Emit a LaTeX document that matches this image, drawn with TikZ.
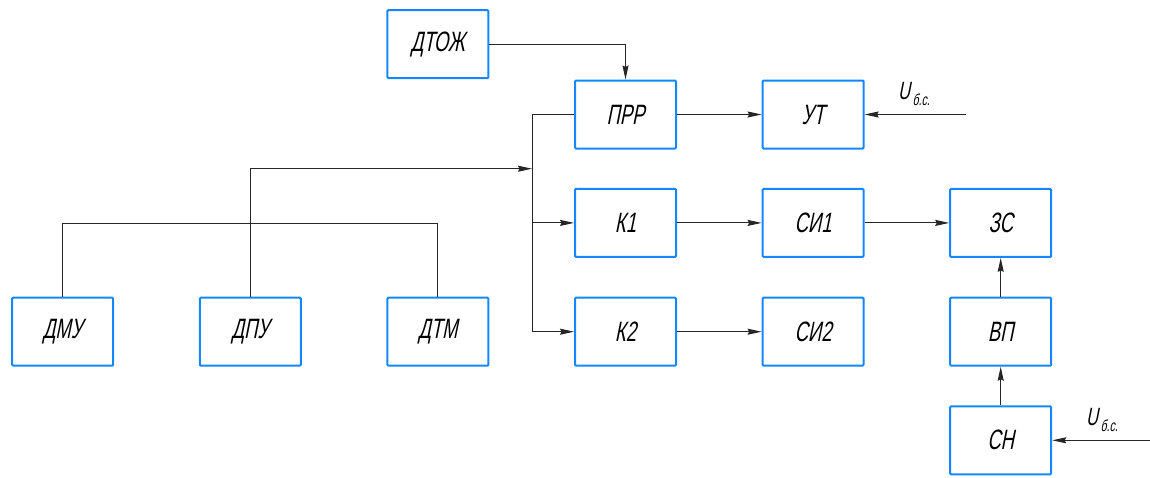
\documentclass[tikz,border=0pt]{standalone}
\usepackage{fontspec}
\setmainfont{Liberation Sans}[FakeSlant=0.2,FakeStretch=0.66]
\usetikzlibrary{arrows.meta,calc}
\definecolor{boxblue}{RGB}{20,135,255}
\tikzset{
  box/.style={draw=boxblue,line width=2pt,rounded corners=1pt,minimum width=101pt,minimum height=68pt,
    inner sep=0pt,font=\fontsize{28}{30}\selectfont},
  wire/.style={draw=black!85,line width=1pt},
  arr/.style={wire,-{Stealth[length=14pt,width=6pt,inset=1.5pt]}},
  lbl/.style={font=\fontsize{25}{26}\selectfont,inner sep=0pt}
}
\begin{document}
\begin{tikzpicture}[x=1pt,y=-1pt,ampersand replacement=\&]
\useasboundingbox (0,0) rectangle (1150,477);
\matrix (m) [anchor=north west,inner sep=0pt,column sep=84.6pt] at (11,9)
{
  \& \& \node[box](dtozh){ДТОЖ}; \& \& \& \\[0.3pt]
  \& \& \& \node[box](prr){ПРР}; \& \node[box](ut){УТ}; \& \\[38.4pt]
  \& \& \& \node[box](k1){К1}; \& \node[box](si1){СИ1}; \& \node[box](zs){ЗС}; \\[38.8pt]
  \node[box](dmu){ДМУ}; \& \node[box](dpu){ДПУ}; \& \node[box](dtm){ДТМ}; \&
  \node[box](k2){К2}; \& \node[box](si2){СИ2}; \& \node[box](vp){ВП}; \\[38.6pt]
  \& \& \& \& \& \node[box](sn){СН}; \\
};
% bus in front of K1, K2
\coordinate (bustop) at ([xshift=-42pt]prr.west);
\coordinate (busbot) at (bustop |- k2.west);
\coordinate (busin) at ($(bustop)!.5!(bustop |- k1.west)$);
\draw[wire] (prr.west) -- (bustop) -- (busbot);
\draw[arr] (bustop |- k1.west) -- (k1.west);
\draw[arr] (busbot) -- (k2.west);
\draw[arr] (dpu.north) |- (busin);
\draw[wire] (dmu.north) -- ++(0,-73) -| (dtm.north);
\draw[arr] (dtozh.east) -| (prr.north);
\draw[arr] (prr) -- (ut);
\draw[arr] (k1) -- (si1);
\draw[arr] (si1) -- (zs);
\draw[arr] (k2) -- (si2);
\draw[arr] (vp) -- (zs);
\draw[arr] (sn) -- (vp);
% supply inputs
\coordinate (ubs1) at ([xshift=101pt]ut.east);
\coordinate (ubs2) at ([xshift=98pt]sn.east);
\draw[arr] (ubs1) -- (ut.east);
\draw[arr] (ubs2) -- (sn.east);
\node[lbl] (u1) at (914,94) {U\kern2.5pt\raisebox{-0.5ex}{\fontsize{16}{17}\selectfont б.с.}};
\node[lbl] (u2) at (1102,420) {U\kern2.5pt\raisebox{-0.5ex}{\fontsize{16}{17}\selectfont б.с.}};
\end{tikzpicture}
\end{document}
